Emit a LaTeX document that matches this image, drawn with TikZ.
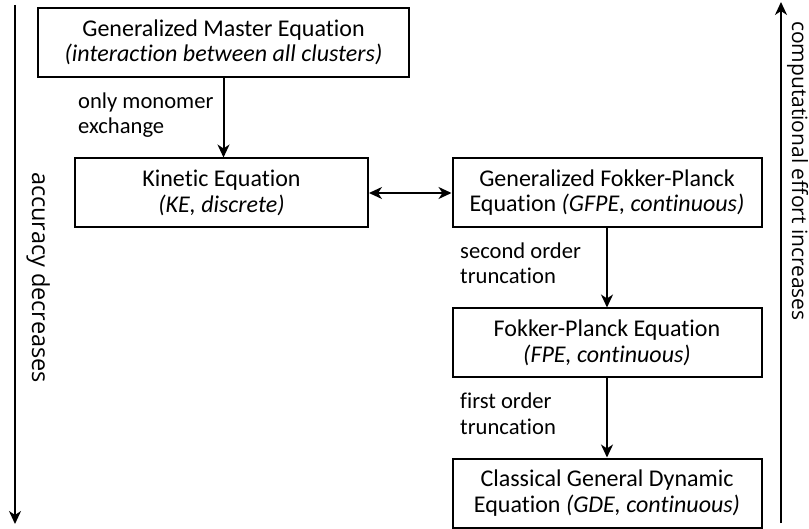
\documentclass[tikz,border=0pt]{standalone}
\usepackage{fontspec}
\setmainfont{Carlito}[Ligatures=NoCommon]
\newfontfamily\sidefont{Open Sans}
\usetikzlibrary{arrows.meta}
\tikzset{
  eqbox/.style={draw=black, line width=2pt, inner sep=0pt, align=center,
    minimum height=69pt, font=\fontsize{24}{25.5}\selectfont},
  arr/.style={line width=2pt, -{Stealth[length=13pt,width=12pt,inset=4pt]}},
  darr/.style={line width=2pt, {Stealth[length=13pt,width=12pt,inset=4pt]}-{Stealth[length=13pt,width=12pt,inset=4pt]}},
  lbl/.style={anchor=base west, inner sep=0pt, font=\fontsize{22.6}{25}\selectfont},
  sidelbl/.style={anchor=base, rotate=-90, inner sep=0pt}
}
\begin{document}
\begin{tikzpicture}[x=1pt,y=-1pt]
\useasboundingbox (0,0) rectangle (809,529);

\node[eqbox, minimum width=371pt] (GME) at (223.5,42.5)
  {Generalized Master Equation\\\textit{(interaction between all clusters)}};
\node[eqbox, minimum width=293pt] (KE) at (221.5,193)
  {Kinetic Equation\\\textit{(KE, discrete)}};
\node[eqbox, minimum width=309pt] (GFPE) at (607,192.5)
  {Generalized Fokker-Planck\\Equation \textit{(GFPE, continuous)}};
\node[eqbox, minimum width=309pt] (FPE) at (607,343)
  {Fokker-Planck Equation\\\textit{(FPE, continuous)}};
\node[eqbox, minimum width=309pt] (CGDE) at (607,493)
  {Classical General Dynamic\\Equation \textit{(GDE, continuous)}};

\draw[arr] (GME.south) -- (GME.south |- KE.north);
\draw[darr] (KE.east) -- (KE.east -| GFPE.west);
\draw[arr] (GFPE.south) -- (FPE.north);
\draw[arr] (FPE.south) -- (CGDE.north);

\node[lbl] (l1a) at (78,109) {only monomer};
\node[lbl] (l1b) at (78,134) {exchange};
\node[lbl] (l2a) at (460,259) {second order};
\node[lbl] (l2b) at (460,284) {truncation};
\node[lbl] (l3a) at (460,408) {first order};
\node[lbl] (l3b) at (460,434) {truncation};

\coordinate (La) at (15,5);
\coordinate (Lb) at (15,524);
\coordinate (Ra) at (781,523);
\coordinate (Rb) at (781,2);
\draw[arr] (La) -- (Lb);
\draw[arr] (Ra) -- (Rb);

\node[sidelbl, font=\sidefont\fontsize{23.5}{25}\selectfont] (acc) at (32,277.5) {accuracy decreases};
\node[sidelbl, font=\sidefont\fontsize{21}{23}\selectfont] (eff) at (792,171) {computational effort increases};
\end{tikzpicture}
\end{document}
